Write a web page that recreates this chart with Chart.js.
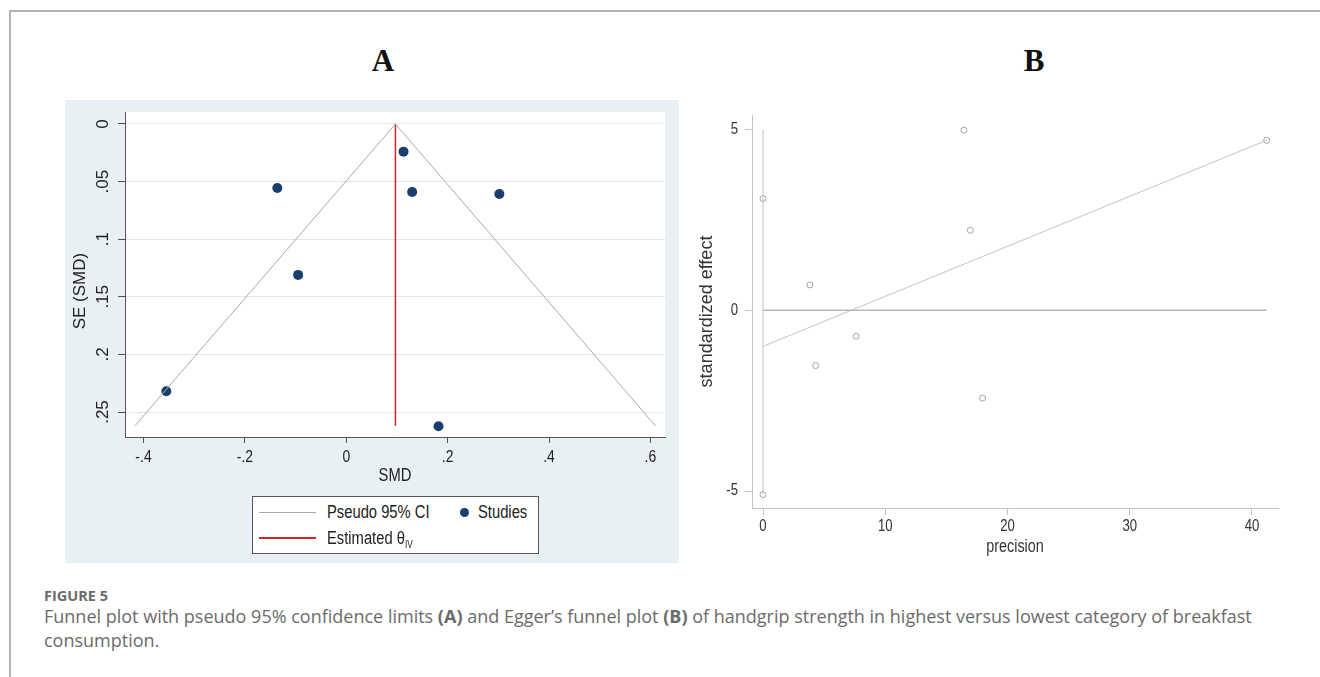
<!DOCTYPE html>
<html>
<head>
<meta charset="utf-8">
<script src="https://cdn.jsdelivr.net/npm/chart.js@4.4.1/dist/chart.umd.min.js"></script>
<style>
  body { margin: 0; background: #fff; }
  #page { position: relative; width: 1320px; height: 677px; overflow: hidden; font-family: 'Liberation Sans', Arial, sans-serif; }
  #frame { position: absolute; left: 9px; top: 10px; right: -5px; bottom: -5px; border-top: 2px solid #b2b2b2; border-left: 2px solid #b2b2b2; }
  .panelTitle { position: absolute; top: 43px; width: 60px; margin-left: -30px; text-align: center; line-height: 31px; font: bold 31px 'Liberation Serif', 'Times New Roman', serif; color: #111; }
  #bgA { position: absolute; left: 65px; top: 100px; width: 614px; height: 463px; background: #e9f0f3; }
  #chartA { position: absolute; left: 65px; top: 100px; }
  #chartB { position: absolute; left: 690px; top: 95px; }
  #legendA { position: absolute; left: 252px; top: 496px; width: 287px; height: 58px; box-sizing: border-box; border: 1px solid #555; background: #fff;
             font-family: 'Liberation Sans', Arial, sans-serif; font-size: 18px; color: #222; }
  #legendA .ln { position: absolute; left: 6px; width: 57px; height: 1px; }
  #legendA .lab { position: absolute; line-height: 20px; white-space: nowrap; transform: scaleX(0.82); transform-origin: 0 50%; }
  #legendA .dot { position: absolute; width: 9px; height: 9px; border-radius: 50%; background: #1a3f6e; }
  #legendA sub { font-size: 10px; vertical-align: -4px; }
  #capHead { position: absolute; left: 44px; top: 587px; font: bold 14.5px 'Open Sans', 'Noto Sans', sans-serif; line-height: 18px; color: #6b6b6b; }
  #capText { position: absolute; left: 44px; top: 604px; font: 18px 'Open Sans', 'Noto Sans', sans-serif; line-height: 24px; color: #6b6b6b; white-space: nowrap; }
</style>
</head>
<body>
<div id="page">
  <div id="frame"></div>
  <div class="panelTitle" style="left:383px">A</div>
  <div class="panelTitle" style="left:1034px">B</div>
  <div id="bgA"></div>
  <canvas id="chartA" width="614" height="463"></canvas>
  <canvas id="chartB" width="610" height="480"></canvas>
  <div id="legendA">
    <div class="ln" style="top:15px;background:#a9a9a9"></div>
    <div class="lab" style="left:74px;top:5px">Pseudo 95% CI</div>
    <div class="dot" style="left:207px;top:11px"></div>
    <div class="lab" style="left:225px;top:5px">Studies</div>
    <div class="ln" style="top:40px;height:2px;background:#c62828"></div>
    <div class="lab" style="left:74px;top:31px">Estimated θ<sub>IV</sub></div>
  </div>
  <div id="capHead">FIGURE 5</div>
  <div id="capText">Funnel plot with pseudo 95% confidence limits <b>(A)</b> and Egger’s funnel plot <b>(B)</b> of handgrip strength in highest versus lowest category of breakfast<br>consumption.</div>
</div>
<script>
// Panel A: funnel plot (SMD vs SE)
const smd = [0.113, -0.136, 0.130, 0.302, -0.095, -0.355, 0.182];
const seSmd = [0.024, 0.0556, 0.059, 0.0608, 0.131, 0.232, 0.2624];
const funnelX = [-0.417, 0.097, 0.610];
const funnelY = [0.262, 0, 0.262];
const thetaX = [0.097, 0.097];
const thetaY = [0, 0.262];
const smdTicks = [-0.4, -0.2, 0, 0.2, 0.4, 0.6];
const smdTickLabels = ['-.4', '-.2', '0', '.2', '.4', '.6'];
const seTicks = [0, 0.05, 0.1, 0.15, 0.2, 0.25];
const seTickLabels = ['0', '.05', '.1', '.15', '.2', '.25'];

// Panel B: Egger's plot (precision vs standardized effect)
const precision = [0, 0, 3.84, 4.31, 7.62, 16.43, 16.96, 17.96, 41.2];
const stdEffect = [3.09, -5.1, 0.70, -1.53, -0.72, 4.98, 2.21, -2.43, 4.70];
const fitX = [0, 41.2];
const fitY = [-1.0, 4.70];
const zeroX = [0, 41.2];
const zeroY = [0, 0];
const vertX = [0, 0];
const vertY = [-5.1, 5.0];
const precTicks = [0, 10, 20, 30, 40];
const precTickLabels = ['0', '10', '20', '30', '40'];
const effTicks = [-5, 0, 5];
const effTickLabels = ['-5', '0', '5'];

const pairs = (xs, ys) => xs.map((x, i) => ({ x: x, y: ys[i] }));

const fam = "'Liberation Sans', Arial, sans-serif";

// white plot region on the bluish graph region
const plotBg = {
  id: 'plotBg',
  beforeDraw(chart) {
    const a = chart.chartArea;
    chart.ctx.save();
    chart.ctx.fillStyle = '#ffffff';
    chart.ctx.fillRect(a.left, a.top, a.right - a.left, a.bottom - a.top);
    chart.ctx.restore();
  }
};

// the source graphs use a condensed face for horizontal text; squeeze it with maxWidth
const narrowText = {
  id: 'narrowText',
  beforeDraw(chart) {
    const ctx = chart.ctx;
    if (ctx._narrow) return;
    const orig = ctx.fillText.bind(ctx);
    ctx.fillText = function (text, x, y) {
      const t = ctx.getTransform();
      if (Math.abs(t.b) < 1e-6) {
        orig(text, x, y, ctx.measureText(text).width * 0.82);
      } else {
        orig(text, x, y);
      }
    };
    ctx._narrow = true;
  }
};

new Chart(document.getElementById('chartA'), {
  type: 'scatter',
  data: {
    datasets: [
      { label: 'Pseudo 95% CI', data: pairs(funnelX, funnelY), showLine: true, borderColor: '#a9a9a9', borderWidth: 1, pointRadius: 0 },
      { label: 'Estimated θIV', data: pairs(thetaX, thetaY), showLine: true, borderColor: '#c62828', borderWidth: 1.5, pointRadius: 0 },
      { label: 'Studies', data: pairs(smd, seSmd), pointRadius: 5, backgroundColor: '#1a3f6e', borderColor: '#1a3f6e', borderWidth: 0 }
    ]
  },
  options: {
    responsive: false,
    animation: false,
    devicePixelRatio: 1,
    layout: { padding: { left: 0, top: 12, right: 14, bottom: 0 } },
    plugins: { legend: { display: false }, tooltip: { enabled: false } },
    scales: {
      x: {
        type: 'linear', min: -0.4365, max: 0.6288,
        afterBuildTicks: s => { s.ticks = smdTicks.map(v => ({ value: v })); },
        afterFit: s => { s.height = 126; s.paddingLeft = 0; s.paddingRight = 0; },
        grid: { drawOnChartArea: false, tickLength: 6, tickColor: '#555' },
        border: { color: '#555', width: 1 },
        ticks: { callback: (v, i) => smdTickLabels[i], font: { family: fam, size: 17 }, color: '#222', padding: 4, maxRotation: 0, autoSkip: false },
        title: { display: true, text: 'SMD', font: { family: fam, size: 18 }, color: '#222', padding: { top: 0, bottom: 76 } }
      },
      y: {
        type: 'linear', reverse: true, min: -0.0104, max: 0.2717,
        afterBuildTicks: s => { s.ticks = seTicks.map(v => ({ value: v })); },
        afterFit: s => { s.width = 60; s.paddingTop = 0; s.paddingBottom = 0; },
        grid: { color: '#dde7ec', tickColor: '#555', tickLength: 7 },
        border: { color: '#555', width: 1 },
        ticks: { callback: (v, i) => seTickLabels[i], font: { family: fam, size: 17 }, color: '#222', minRotation: 90, maxRotation: 90, crossAlign: 'center', padding: 3, autoSkip: false },
        // trailing spaces push the rotated title down, as it sits in the source
        title: { display: true, text: 'SE (SMD)       ', font: { family: fam, size: 17 }, color: '#222', padding: { top: 5, bottom: 0 } }
      }
    }
  },
  plugins: [plotBg, narrowText]
});

new Chart(document.getElementById('chartB'), {
  type: 'scatter',
  data: {
    datasets: [
      { data: pairs(vertX, vertY), showLine: true, borderColor: '#c2c2c2', borderWidth: 1, pointRadius: 0 },
      { data: pairs(zeroX, zeroY), showLine: true, borderColor: '#b8b8b8', borderWidth: 1.3, pointRadius: 0 },
      { data: pairs(fitX, fitY), showLine: true, borderColor: '#c2c2c2', borderWidth: 1, pointRadius: 0 },
      { data: pairs(precision, stdEffect), pointRadius: 3, pointStyle: 'circle', backgroundColor: 'rgba(255,255,255,0)', borderColor: '#a3a3a3', borderWidth: 1 }
    ]
  },
  options: {
    responsive: false,
    animation: false,
    devicePixelRatio: 1,
    layout: { padding: { left: 0, top: 20, right: 22, bottom: 0 } },
    plugins: { legend: { display: false }, tooltip: { enabled: false } },
    scales: {
      x: {
        type: 'linear', min: -0.9, max: 42.13,
        afterBuildTicks: s => { s.ticks = precTicks.map(v => ({ value: v })); },
        afterFit: s => { s.height = 67; s.paddingLeft = 0; s.paddingRight = 0; },
        grid: { drawOnChartArea: false, tickLength: 7, tickColor: '#c4c4c4' },
        border: { color: '#c4c4c4', width: 1 },
        ticks: { callback: (v, i) => precTickLabels[i], font: { family: fam, size: 16 }, color: '#333', padding: 2, maxRotation: 0, autoSkip: false },
        title: { display: true, text: 'precision', font: { family: fam, size: 17.5 }, color: '#333', padding: { top: 0, bottom: 17 } }
      },
      y: {
        type: 'linear', min: -5.47, max: 5.40,
        afterBuildTicks: s => { s.ticks = effTicks.map(v => ({ value: v })); },
        afterFit: s => { s.width = 62; s.paddingTop = 0; s.paddingBottom = 0; },
        grid: { drawOnChartArea: false, tickLength: 7, tickColor: '#c4c4c4' },
        border: { color: '#c4c4c4', width: 1 },
        ticks: { callback: (v, i) => effTickLabels[i], font: { family: fam, size: 16 }, color: '#333', padding: 7, autoSkip: false },
        title: { display: true, text: 'standardized effect', font: { family: fam, size: 18 }, color: '#333', padding: { top: 6, bottom: 0 } }
      }
    }
  },
  plugins: [narrowText]
});
</script>
</body>
</html>
